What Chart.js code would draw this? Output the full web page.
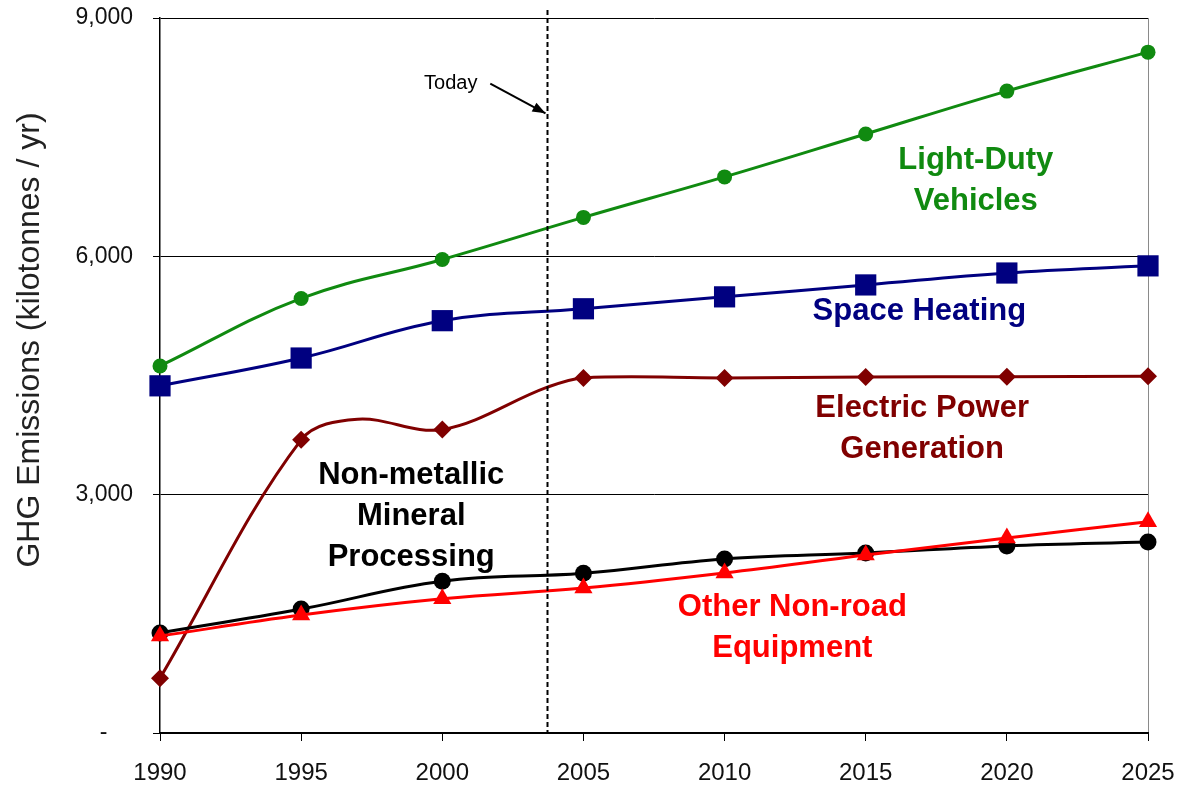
<!DOCTYPE html>
<html>
<head>
<meta charset="utf-8">
<script src="https://cdn.jsdelivr.net/npm/chart.js@4/dist/chart.umd.min.js"></script>
<style>
html,body{margin:0;padding:0;background:#fff;}
#wrap{width:1186px;height:789px;}
</style>
</head>
<body>
<div id="wrap"><canvas id="c" width="1186" height="789"></canvas></div>
<script>
const years = [1990, 1995, 2000, 2005, 2010, 2015, 2020, 2025];
const yTicks = [0, 3000, 6000, 9000];
const lightDuty = [4620, 5470, 5960, 6490, 7000, 7540, 8080, 8570];
const spaceHeating = [4370, 4720, 5190, 5340, 5490, 5640, 5790, 5880];
const nonMetallic = [1260, 1560, 1910, 2010, 2190, 2265, 2355, 2405];
const otherNonRoad = [1220, 1485, 1690, 1825, 2015, 2240, 2455, 2660];
// Electric power line has extra unmarked points visible as bends in the curve
const electricPowerYears = [1990, 1995, 1997, 2000, 2003.7, 2005, 2010, 2015, 2020, 2025];
const electricPower = [690, 3690, 3950, 3820, 4350, 4470, 4470, 4480, 4485, 4490];
const TODAY = 2003.7;

const seriesNames = ['Light-Duty Vehicles','Space Heating','Electric Power Generation','Non-metallic Mineral Processing','Other Non-road Equipment'];
const seriesColors = ['#108a10','#000080','#800000','#000000','#ff0000'];
const yTitle = 'GHG Emissions (kilotonnes / yr)';

function pts(xs, arr){ return xs.map((x,i)=>({x:x,y:arr[i]})); }

const labelDefs = [
  {lines:['Light-Duty','Vehicles'], x:2018.9, y:7213, color:seriesColors[0]},
  {lines:['Space Heating'], x:2016.9, y:5300, color:seriesColors[1]},
  {lines:['Electric Power','Generation'], x:2017.0, y:4091, color:seriesColors[2]},
  {lines:['Non-metallic','Mineral','Processing'], x:1998.9, y:3248, color:seriesColors[3]},
  {lines:['Other Non-road','Equipment'], x:2012.4, y:1586, color:seriesColors[4]}
];

const overlay = {
  id:'overlay',
  afterDatasetsDraw(chart){
    const ctx = chart.ctx, xs = chart.scales.x, ys = chart.scales.y;
    const tx = Math.round(xs.getPixelForValue(TODAY)) + 0.5;
    ctx.save();
    ctx.strokeStyle = '#000';
    ctx.lineWidth = 2;
    ctx.setLineDash([5,3]);
    ctx.beginPath();
    ctx.moveTo(tx, ys.getPixelForValue(9000) - 8);
    ctx.lineTo(tx, ys.getPixelForValue(0));
    ctx.stroke();
    ctx.setLineDash([]);
    // Today text + arrow
    const ax0 = xs.getPixelForValue(2001.7), ay0 = ys.getPixelForValue(8175);
    const ax1 = tx - 2, ay1 = ys.getPixelForValue(7800);
    ctx.lineWidth = 2;
    ctx.beginPath(); ctx.moveTo(ax0, ay0); ctx.lineTo(ax1, ay1); ctx.stroke();
    const ang = Math.atan2(ay1-ay0, ax1-ax0);
    ctx.fillStyle = '#000';
    ctx.beginPath();
    ctx.moveTo(ax1, ay1);
    ctx.lineTo(ax1 - 13*Math.cos(ang) + 5*Math.sin(ang), ay1 - 13*Math.sin(ang) - 5*Math.cos(ang));
    ctx.lineTo(ax1 - 13*Math.cos(ang) - 5*Math.sin(ang), ay1 - 13*Math.sin(ang) + 5*Math.cos(ang));
    ctx.closePath(); ctx.fill();
    ctx.font = '20px "Liberation Sans", Arial, sans-serif';
    ctx.textAlign = 'center'; ctx.textBaseline = 'middle';
    ctx.fillText('Today', xs.getPixelForValue(2000.3), ys.getPixelForValue(8170));
    // series labels
    ctx.font = 'bold 31px "Liberation Sans", Arial, sans-serif';
    labelDefs.forEach(l=>{
      ctx.fillStyle = l.color;
      const cx = xs.getPixelForValue(l.x), cy = ys.getPixelForValue(l.y);
      l.lines.forEach((t,i)=>{ ctx.fillText(t, cx, cy + i*41); });
    });
    // y axis title
    ctx.save();
    ctx.fillStyle = '#222';
    ctx.font = '32px "Liberation Sans", Arial, sans-serif';
    ctx.translate(30, 340);
    ctx.rotate(-Math.PI/2);
    ctx.fillText(yTitle, 0, 0);
    ctx.restore();
    ctx.restore();
  }
};

const pointStyles = ['circle','rect','rectRot','circle','triangle'];
const pointRadii = [7.5,15,9,8.5,10.5];
const xsArrs = [years, years, electricPowerYears, years, years];
const dataArrs = [lightDuty, spaceHeating, electricPower, nonMetallic, otherNonRoad];
const tensions = [0.4, 0.4, 0.35, 0.4, 0.4];
const order = [4,3,2,0,1];

new Chart(document.getElementById('c'), {
  type:'line',
  data:{
    datasets: order.map(i=>({
      label: seriesNames[i],
      data: pts(xsArrs[i], dataArrs[i]),
      borderColor: seriesColors[i],
      backgroundColor: seriesColors[i],
      borderWidth: 3,
      pointStyle: pointStyles[i],
      pointRadius: (c)=> (c.raw && years.includes(c.raw.x)) ? pointRadii[i] : 0,
      pointBorderWidth: 0,
      tension: tensions[i],
      clip: false
    }))
  },
  options:{
    responsive:false,
    animation:false,
    events:[],
    layout:{padding:{top:18,right:38,left:0,bottom:0}},
    plugins:{legend:{display:false}, tooltip:{enabled:false}},
    scales:{
      x:{
        type:'linear', min:1990, max:2025,
        afterBuildTicks(s){ s.ticks = years.map(v=>({value:v})); },
        afterFit(s){ s.height = 56; s.paddingLeft = 0; s.paddingRight = 0; },
        border:{color:'#000', width:2},
        grid:{
          color:(c)=> c.tick && c.tick.value===2025 ? '#8a8a8a' : 'rgba(0,0,0,0)',
          tickColor:'#000', tickLength:8, lineWidth:1
        },
        ticks:{
          color:'#111', padding:18,
          font:{family:'"Liberation Sans", Arial, sans-serif', size:24},
          callback:(v)=>String(v)
        }
      },
      y:{
        min:0, max:9000,
        afterBuildTicks(s){ s.ticks = yTicks.map(v=>({value:v})); },
        afterFit(s){ s.width = 160; s.paddingTop = 0; s.paddingBottom = 0; },
        border:{color:'#000', width:1.5},
        grid:{color:'#000', tickColor:'#000', tickLength:7, lineWidth:1},
        ticks:{
          color:'#111', padding:20,
          font:{family:'"Liberation Sans", Arial, sans-serif', size:23},
          callback:(v)=> v===0 ? '-    ' : v.toLocaleString('en-US')
        }
      }
    }
  },
  plugins:[overlay]
});
</script>
</body>
</html>
